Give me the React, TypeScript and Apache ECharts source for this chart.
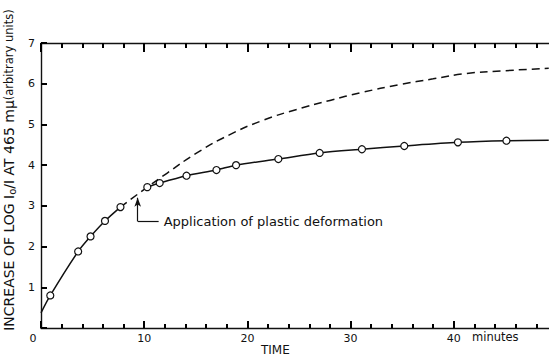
import React, { useEffect, useRef } from "react";
import * as echarts from "echarts";

const X_MIN = 0;
const X_MAX = 50;
const Y_MIN = 0;
const Y_MAX = 7;

const xLabelValues = [0, 10, 20, 30, 40];

// measured points before plastic deformation
const earlyCurve: number[][] = [
  [0, 0.37],
  [0.9, 0.8],
  [3.6, 1.88],
  [4.8, 2.25],
  [6.2, 2.63],
  [7.7, 2.97],
];
// measured points after plastic deformation
const lateCurve: number[][] = [
  [10.3, 3.46],
  [11.5, 3.56],
  [14.1, 3.74],
  [17.0, 3.88],
  [18.9, 4.0],
  [23.0, 4.15],
  [27.0, 4.3],
  [31.1, 4.39],
  [35.2, 4.47],
  [40.4, 4.56],
  [45.1, 4.6],
  [49.2, 4.61],
];
// extrapolated (undeformed) curve
const dashedCurve: number[][] = [
  [7.7, 2.97],
  [10.3, 3.46],
  [12.2, 3.8],
  [15.1, 4.3],
  [18.3, 4.75],
  [21.5, 5.1],
  [24.8, 5.37],
  [28.0, 5.59],
  [31.0, 5.78],
  [34.8, 5.98],
  [38.0, 6.12],
  [41.2, 6.25],
  [45.0, 6.32],
  [49.2, 6.38],
];
// annotation arrow: corner, tip, and end of the leader
const arrowCorner = [9.37, 2.62];
const arrowTip = [9.37, 3.2];
const leaderEnd = [11.4, 2.62];
const annotationText = "Application of plastic deformation";

const FONT = "DejaVu Sans";
const INK = "#111";

export default function App() {
  const ref = useRef<HTMLDivElement>(null);
  useEffect(() => {
    if (!ref.current) return;
    const chart = echarts.init(ref.current, null, { renderer: "svg" });
    const axisLine = { show: true, onZero: false, lineStyle: { color: INK, width: 1.4 } };
    const xLabelFmt = (v: number) => {
      if (v === 0) return "{z|0}";
      if (xLabelValues.indexOf(v) >= 0) return String(v);
      return "";
    };
    chart.setOption({
      animation: false,
      backgroundColor: "#fff",
      textStyle: { fontFamily: FONT },
      grid: { left: 41, right: -8, top: 43, bottom: 30, outerBoundsMode: "none", containLabel: false },
      xAxis: [
        {
          type: "value",
          min: X_MIN,
          max: X_MAX,
          interval: 10,
          position: "bottom",
          splitLine: { show: false },
          axisLine,
          axisTick: { show: true, inside: true, length: 7, lineStyle: { color: "#000", width: 2 } },
          minorTick: { show: true, splitNumber: 5, length: 4, lineStyle: { color: "#000", width: 2 } },
          minorSplitLine: { show: false },
          axisLabel: {
            show: true,
            formatter: xLabelFmt,
            color: INK,
            fontSize: 11,
            fontFamily: FONT,
            margin: 5,
            showMaxLabel: false,
            rich: { z: { fontSize: 11, fontFamily: FONT, color: INK, padding: [0, 16, 0, 0] } },
          },
        },
        {
          type: "value",
          min: X_MIN,
          max: X_MAX,
          interval: 10,
          position: "top",
          splitLine: { show: false },
          axisLine,
          axisTick: { show: true, inside: true, length: 9, lineStyle: { color: "#000", width: 2 } },
          minorTick: { show: true, splitNumber: 5, length: 5, lineStyle: { color: "#000", width: 2 } },
          minorSplitLine: { show: false },
          axisLabel: { show: false },
        },
      ],
      yAxis: {
        type: "value",
        min: Y_MIN,
        max: Y_MAX,
        interval: 1,
        splitLine: { show: false },
        axisLine,
        axisTick: { show: true, inside: true, length: 6, lineStyle: { color: "#000", width: 2 } },
        axisLabel: {
          formatter: (v: number) => (v === 0 ? "" : String(v)),
          color: INK,
          fontSize: 11,
          fontFamily: FONT,
          margin: 6,
        },
        name: "INCREASE OF LOG I{sub|o}/I AT 465 m\u03bc{small|(arbitrary units)}",
        nameLocation: "middle",
        nameRotate: 90,
        nameGap: 20,
        nameTextStyle: {
          fontSize: 14,
          fontFamily: FONT,
          color: INK,
          padding: [0, 0, 0, 31],
          rich: {
            sub: { fontSize: 10, fontFamily: FONT, color: INK, verticalAlign: "bottom", padding: [6, 0, 0, 0] },
            small: { fontSize: 11.5, fontFamily: FONT, color: INK },
          },
        },
      },
      graphic: [
        {
          type: "text",
          left: 472,
          top: 331,
          style: { text: "minutes", fontSize: 11.5, fontFamily: FONT, fill: INK },
        },
        {
          type: "text",
          left: 261,
          top: 344,
          style: { text: "TIME", fontSize: 12, fontFamily: FONT, fill: INK },
        },
      ],
      series: [
        {
          type: "line",
          data: dashedCurve,
          smooth: true,
          showSymbol: false,
          lineStyle: { color: INK, width: 1.5, type: [8, 5] },
          z: 2,
        },
        {
          type: "line",
          data: earlyCurve.map((p, i) => (i === 0 ? { value: p, symbol: "none" } : p)),
          smooth: 0.3,
          symbol: "circle",
          symbolSize: 7,
          itemStyle: { color: "#fff", borderColor: INK, borderWidth: 1.2 },
          lineStyle: { color: INK, width: 1.5 },
          z: 3,
        },
        {
          type: "line",
          data: lateCurve.map((p, i) => (i === lateCurve.length - 1 ? { value: p, symbol: "none" } : p)),
          smooth: 0.3,
          symbol: "circle",
          symbolSize: 7,
          itemStyle: { color: "#fff", borderColor: INK, borderWidth: 1.2 },
          lineStyle: { color: INK, width: 1.5 },
          z: 3,
        },
        {
          type: "line",
          data: [],
          markLine: {
            silent: true,
            animation: false,
            lineStyle: { color: INK, width: 1.2, type: "solid" },
            data: [
              [
                { coord: arrowCorner, symbol: "none" },
                { coord: arrowTip, symbol: "arrow", symbolSize: [5, 9] },
              ],
              [
                { coord: arrowCorner, symbol: "none" },
                {
                  coord: leaderEnd,
                  symbol: "none",
                  label: {
                    show: true,
                    position: "end",
                    formatter: annotationText,
                    fontSize: 13,
                    fontFamily: FONT,
                    color: INK,
                    distance: 5,
                  },
                },
              ],
            ],
            label: { show: false },
          },
        },
      ],
    });
    return () => chart.dispose();
  }, []);
  return <div ref={ref} style={{ position: "fixed", left: 0, top: 0, width: 549, height: 358 }} />;
}
